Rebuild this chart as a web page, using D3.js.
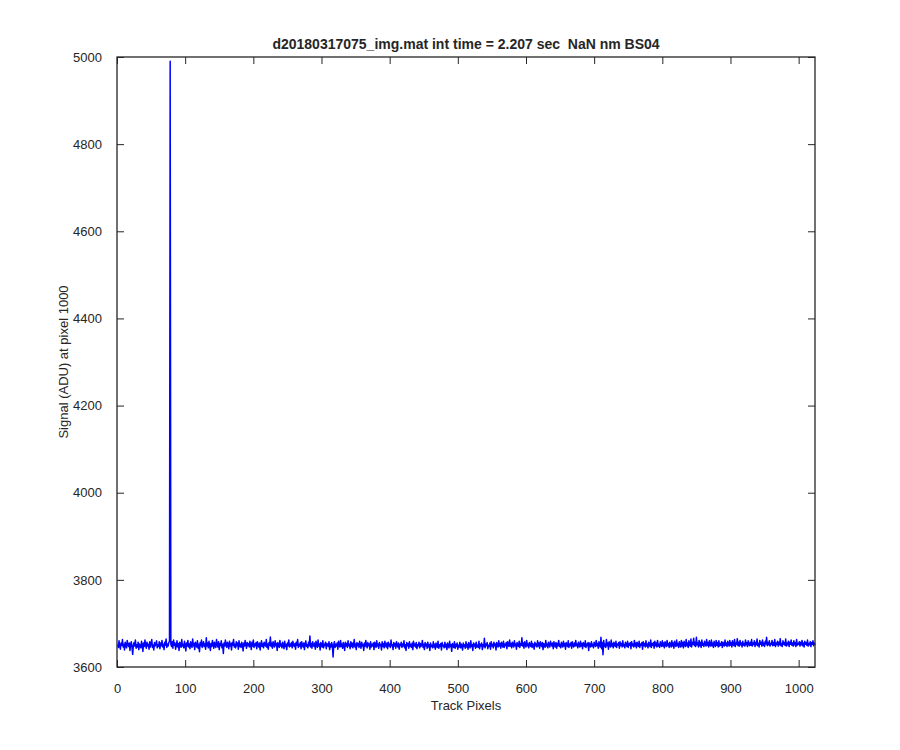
<!DOCTYPE html>
<html>
<head>
<meta charset="utf-8">
<script src="https://cdn.jsdelivr.net/npm/d3@7"></script>
<style>
  body { margin: 0; background: #fff; }
  text { font-family: "Liberation Sans", Arial, sans-serif; fill: #262626; }
</style>
</head>
<body>
<svg id="chart" width="900" height="750"></svg>
<script>
// Chart data
const titleText = "d20180317075_img.mat int time = 2.207 sec  NaN nm BS04";
const xLabel = "Track Pixels";
const yLabel = "Signal (ADU) at pixel 1000";
const xTicks = [0, 100, 200, 300, 400, 500, 600, 700, 800, 900, 1000];
const yTicks = [3600, 3800, 4000, 4200, 4400, 4600, 4800, 5000];

// signal per track pixel (1..1024)
const signal = [
  3652,3645,3660,3648,3641,3655,3650,3663,3646,3652,3639,3657,3649,3644,3661,3651,3647,3655,3638,3653,3658,3645,3629,3650,3656,3648,3662,3643,3651,3646,3657,3640,
  3653,3649,3644,3659,3651,3636,3655,3647,3662,3650,3643,3657,3648,3652,3641,3658,3646,3654,3663,3645,3650,3639,3656,3648,3653,3660,3644,3651,3647,3658,3642,3655,
  3649,3661,3646,3652,3640,3657,3650,3664,3645,3653,3648,3656,3659,4990,3652,3647,3658,3643,3662,3650,3655,3641,3649,3660,3646,3654,3638,3657,3651,3645,3663,3648,
  3652,3644,3659,3650,3637,3655,3648,3661,3646,3653,3642,3658,3650,3645,3664,3649,3654,3640,3657,3651,3646,3660,3643,3652,3635,3656,3649,3662,3645,3651,3658,3647,
  3653,3641,3667,3648,3655,3644,3659,3650,3638,3654,3647,3661,3652,3643,3657,3649,3645,3663,3651,3646,3658,3640,3654,3649,3660,3644,3652,3631,3655,3648,3662,3650,
  3645,3657,3651,3642,3659,3648,3654,3639,3656,3650,3663,3646,3652,3644,3658,3649,3655,3641,3660,3647,3653,3645,3657,3650,3637,3655,3648,3661,3652,3643,3656,3649,
  3654,3646,3659,3651,3640,3657,3648,3662,3645,3653,3649,3656,3642,3658,3650,3646,3655,3639,3652,3660,3647,3654,3644,3657,3650,3648,3663,3645,3653,3641,3656,3650,
  3669,3647,3655,3643,3658,3651,3646,3660,3649,3654,3638,3656,3650,3645,3661,3648,3653,3644,3657,3650,3642,3659,3647,3652,3640,3655,3649,3662,3646,3653,3648,3656,
  3644,3659,3651,3647,3654,3641,3657,3650,3663,3645,3652,3648,3656,3642,3658,3650,3646,3655,3640,3653,3660,3647,3651,3644,3657,3649,3671,3646,3654,3643,3658,3650,
  3647,3655,3641,3659,3650,3645,3662,3648,3653,3639,3656,3651,3646,3660,3644,3652,3649,3657,3642,3654,3650,3647,3658,3640,3653,3646,3656,3649,3623,3651,3658,3645,
  3652,3648,3655,3641,3659,3650,3646,3661,3647,3653,3643,3656,3650,3638,3657,3648,3654,3645,3660,3649,3652,3642,3658,3647,3655,3644,3651,3663,3646,3653,3640,3656,
  3649,3654,3645,3659,3650,3643,3657,3648,3652,3638,3655,3647,3661,3650,3644,3656,3649,3653,3641,3658,3646,3652,3648,3655,3640,3657,3650,3645,3660,3648,3653,3643,
  3656,3649,3652,3639,3658,3647,3654,3644,3659,3650,3646,3655,3642,3657,3648,3653,3645,3662,3649,3651,3640,3656,3648,3654,3643,3658,3650,3646,3655,3641,3652,3649,
  3657,3645,3653,3648,3660,3644,3651,3638,3656,3649,3654,3643,3658,3647,3652,3645,3655,3640,3659,3648,3653,3646,3656,3642,3651,3649,3657,3644,3654,3647,3650,3661,
  3645,3652,3640,3656,3648,3653,3643,3657,3646,3651,3638,3655,3647,3650,3644,3658,3646,3652,3641,3655,3649,3645,3659,3643,3651,3647,3654,3639,3656,3648,3650,3644,
  3657,3646,3652,3640,3655,3648,3644,3659,3647,3651,3636,3654,3649,3645,3658,3643,3652,3647,3655,3641,3650,3646,3657,3644,3653,3648,3639,3655,3647,3651,3643,3658,
  3646,3652,3641,3656,3649,3644,3660,3647,3651,3638,3655,3648,3653,3643,3657,3646,3650,3645,3659,3642,3652,3648,3655,3640,3651,3647,3666,3644,3653,3649,3656,3642,
  3650,3647,3655,3641,3658,3648,3652,3644,3657,3649,3653,3639,3656,3650,3646,3660,3648,3654,3643,3657,3651,3646,3659,3645,3653,3649,3656,3642,3658,3650,3647,3662,
  3648,3654,3644,3657,3650,3646,3660,3649,3653,3641,3656,3651,3647,3659,3645,3654,3650,3667,3648,3655,3643,3658,3651,3646,3661,3649,3653,3644,3656,3650,3647,3659,
  3645,3654,3650,3641,3657,3649,3653,3646,3660,3648,3655,3643,3658,3651,3647,3656,3640,3654,3650,3645,3661,3648,3653,3644,3657,3650,3646,3659,3652,3648,3655,3642,
  3658,3650,3646,3656,3643,3654,3649,3661,3647,3652,3644,3657,3650,3646,3659,3648,3654,3641,3656,3651,3647,3660,3645,3653,3649,3656,3643,3658,3650,3646,3655,3648,
  3661,3649,3653,3644,3657,3650,3646,3659,3648,3654,3642,3656,3651,3647,3660,3645,3653,3649,3656,3638,3655,3650,3646,3658,3648,3652,3644,3657,3651,3647,3661,3649,
  3654,3643,3658,3650,3646,3668,3642,3656,3628,3661,3647,3653,3645,3663,3649,3655,3641,3658,3650,3646,3662,3648,3654,3644,3657,3651,3647,3659,3645,3653,3650,3656,
  3643,3658,3649,3654,3646,3660,3648,3652,3644,3657,3651,3647,3659,3645,3654,3650,3656,3642,3658,3649,3653,3646,3661,3648,3655,3644,3657,3650,3647,3659,3645,3653,
  3650,3656,3641,3658,3649,3654,3646,3660,3648,3653,3644,3657,3651,3647,3662,3645,3654,3650,3656,3643,3659,3649,3655,3646,3661,3648,3652,3645,3658,3650,3647,3660,
  3648,3655,3644,3658,3651,3647,3661,3649,3654,3645,3657,3650,3646,3660,3648,3655,3643,3659,3651,3647,3662,3649,3654,3645,3658,3650,3646,3661,3648,3656,3644,3659,
  3651,3647,3663,3649,3655,3645,3660,3650,3648,3664,3646,3656,3652,3666,3649,3657,3647,3668,3651,3655,3646,3661,3649,3657,3645,3662,3650,3654,3647,3659,3652,3648,
  3663,3650,3656,3646,3660,3651,3648,3662,3649,3655,3645,3659,3652,3647,3661,3650,3656,3646,3660,3648,3654,3650,3658,3645,3657,3651,3648,3662,3650,3655,3647,3659,
  3652,3648,3661,3650,3656,3646,3660,3651,3649,3663,3647,3655,3652,3665,3649,3657,3648,3661,3651,3655,3646,3659,3650,3654,3648,3662,3651,3656,3647,3660,3652,3649,
  3657,3650,3663,3648,3655,3652,3660,3647,3656,3651,3664,3649,3654,3646,3661,3652,3657,3648,3662,3650,3655,3647,3659,3653,3668,3649,3656,3651,3660,3648,3654,3652,
  3661,3649,3656,3650,3663,3647,3655,3652,3659,3648,3657,3651,3665,3649,3654,3647,3660,3652,3656,3650,3664,3648,3655,3651,3659,3647,3657,3652,3662,3650,3655,3648,
  3660,3651,3656,3647,3663,3650,3654,3652,3658,3648,3657,3651,3661,3649,3655,3646,3659,3652,3656,3650,3662,3648,3654,3651,3658,3647,3656,3652,3660,3649,3655,3651
];

const svg = d3.select("#chart");
const margin = { left: 117, right: 85, top: 57, bottom: 83 };
const width = 900 - margin.left - margin.right;
const height = 750 - margin.top - margin.bottom;
const axisColor = "#262626";

const g = svg.append("g").attr("transform", `translate(${margin.left},${margin.top})`);

const x = d3.scaleLinear().domain([0, 1024]).range([0, width]);
const y = d3.scaleLinear().domain([3600, 5000]).range([height, 0]);

// data line
const line = d3.line()
    .x((d, i) => x(i + 1))
    .y(d => y(d));

g.append("path")
    .datum(signal)
    .attr("fill", "none")
    .attr("stroke", "#0000ff")
    .attr("stroke-width", 1.5)
    .attr("stroke-linejoin", "round")
    .attr("d", line);

// axes, ticks inside, mirrored on top/right like matlab's box on
function styleAxis(sel) {
    sel.select(".domain").remove();
    sel.selectAll(".tick line").attr("stroke", axisColor);
    sel.selectAll(".tick text")
        .style("font-size", "13px")
        .attr("fill", axisColor);
}

g.append("g")
    .attr("transform", `translate(0,${height})`)
    .call(d3.axisBottom(x).tickValues(xTicks).tickFormat(d3.format("d")).tickSizeInner(-7).tickPadding(17))
    .call(styleAxis);

g.append("g")
    .call(d3.axisTop(x).tickValues(xTicks).tickSizeInner(-7).tickFormat(""))
    .call(styleAxis);

g.append("g")
    .call(d3.axisLeft(y).tickValues(yTicks).tickFormat(d3.format("d")).tickSizeInner(-7).tickPadding(15))
    .call(styleAxis);

g.append("g")
    .attr("transform", `translate(${width},0)`)
    .call(d3.axisRight(y).tickValues(yTicks).tickSizeInner(-7).tickFormat(""))
    .call(styleAxis);

g.append("rect")
    .attr("width", width)
    .attr("height", height)
    .attr("fill", "none")
    .attr("stroke", axisColor)
    .attr("stroke-width", 1.3);

// labels
svg.append("text")
    .attr("x", margin.left + width / 2)
    .attr("y", 49)
    .attr("text-anchor", "middle")
    .style("font-size", "14px")
    .style("font-weight", "bold")
    .style("white-space", "pre")
    .attr("fill", "#000")
    .text(titleText);

svg.append("text")
    .attr("x", margin.left + width / 2)
    .attr("y", 710)
    .attr("text-anchor", "middle")
    .style("font-size", "13px")
    .text(xLabel);

svg.append("text")
    .attr("transform", `translate(68,${margin.top + height / 2}) rotate(-90)`)
    .attr("text-anchor", "middle")
    .style("font-size", "13px")
    .text(yLabel);
</script>
</body>
</html>
